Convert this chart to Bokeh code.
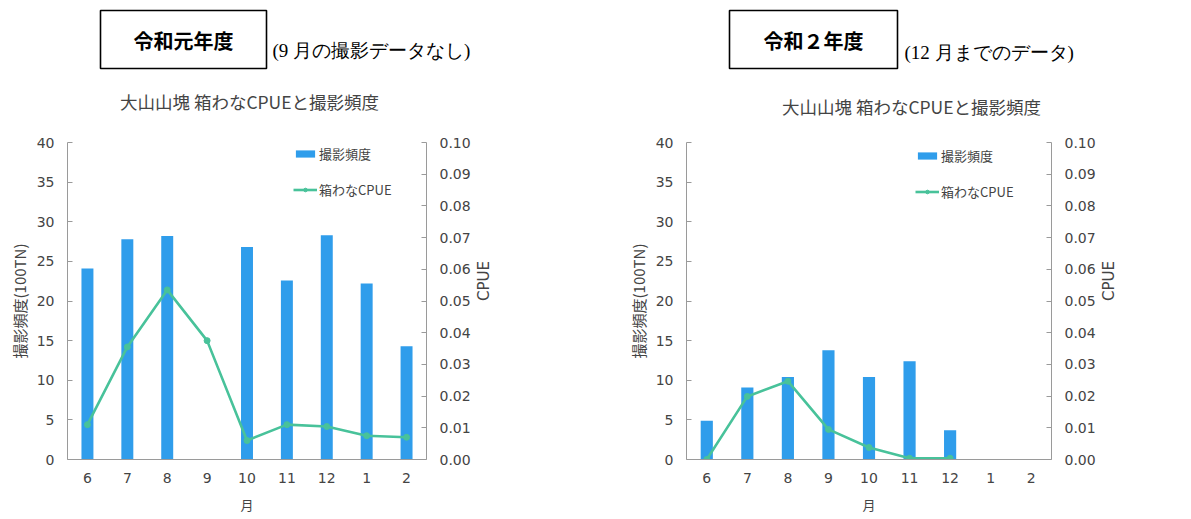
import math
from bokeh.plotting import figure
from bokeh.layouts import column, row
from bokeh.models import (Range1d, FactorRange, LinearAxis, SingleIntervalTicker,
                          NumeralTickFormatter, Legend, LegendItem, ColumnDataSource)
from bokeh.core.properties import value
from bokeh.embed import file_html
from bokeh.resources import INLINE

# Months of the survey year (June to February)
months = ["6", "7", "8", "9", "10", "11", "12", "1", "2"]

# Reiwa 1: camera frequency (100 trap-nights) and box-trap CPUE; no camera data in September
r1_freq = [24.1, 27.8, 28.2, None, 26.8, 22.6, 28.3, 22.2, 14.3]
r1_cpue = [0.011, 0.0355, 0.0535, 0.0375, 0.006, 0.011, 0.0104, 0.0075, 0.007]

# Reiwa 2: data up to December
r2_freq = [4.9, 9.1, 10.4, 13.8, 10.4, 12.4, 3.7, None, None]
r2_cpue = [0.0, 0.0199, 0.0247, 0.0095, 0.0038, 0.0004, 0.0004, None, None]

year_titles = ["令和元年度", "令和２年度"]
year_notes = ["(9 月の撮影データなし)", "(12 月までのデータ)"]
chart_title = "大山山塊 箱わなCPUEと撮影頻度"
freq_label = "撮影頻度(100TN)"
cpue_label = "CPUE"
x_label = "月"
freq_name = "撮影頻度"
cpue_name = "箱わなCPUE"

BAR = "#2F9DEB"
LINE = "#48C29A"
AXIS = "#9a9a9a"
TXT = "#444444"
CJK = "Noto Sans CJK JP"
LAT = "DejaVu Sans"

W_TOTAL, H_TOTAL, H_HEAD = 1191, 519, 120
FRAME_TOP, FRAME_BOTTOM = 142, 459   # plots in a row share the frame's vertical extent
ROW_H = 16  # nominal height of one legend row


def pairs(xs, ys):
    keep = [(x, y) for x, y in zip(xs, ys) if y is not None]
    return [k[0] for k in keep], [k[1] for k in keep]


def make_chart(freq, cpue, width, b_left, frame_w, legend_x, item1_y, item2_y):
    height = H_TOTAL - H_HEAD
    p = figure(width=width, height=height,
               x_range=FactorRange(factors=months, range_padding=0),
               y_range=Range1d(0, 40),
               output_backend="svg", toolbar_location=None,
               min_border_left=b_left, min_border_right=width - b_left - frame_w,
               min_border_top=FRAME_TOP - H_HEAD, min_border_bottom=H_TOTAL - FRAME_BOTTOM)
    p.outline_line_color = None
    p.grid.grid_line_color = None
    p.extra_y_ranges = {"cpue": Range1d(0, 0.1)}

    # left axis: camera frequency
    ya = p.yaxis[0]
    ya.ticker = SingleIntervalTicker(interval=5, num_minor_ticks=0)
    ya.axis_label = freq_label
    # right axis: CPUE, label reading bottom to top
    ya2 = LinearAxis(y_range_name="cpue",
                     ticker=SingleIntervalTicker(interval=0.01, num_minor_ticks=0),
                     formatter=NumeralTickFormatter(format="0.00"),
                     axis_label=cpue_label)
    ya2.axis_label_orientation = math.pi / 2
    p.add_layout(ya2, "right")
    xa = p.xaxis[0]
    xa.axis_label = x_label

    for ax in (ya, ya2):
        ax.major_tick_in = 5
        ax.major_tick_out = 0
        ax.minor_tick_line_color = None
        ax.axis_line_color = AXIS
        ax.major_tick_line_color = AXIS
        ax.major_label_text_font = LAT
        ax.major_label_text_font_size = "14px"
        ax.major_label_text_color = TXT
        ax.major_label_standoff = 13
        ax.axis_label_text_font_size = "15px"
        ax.axis_label_text_font_style = "normal"
        ax.axis_label_text_color = TXT
    ya.axis_label_text_font = CJK
    ya.axis_label_standoff = 4
    ya2.axis_label_text_font = LAT
    ya2.axis_label_standoff = 10

    xa.major_tick_in = 0
    xa.major_tick_out = 0
    xa.minor_tick_line_color = None
    xa.axis_line_color = AXIS
    xa.major_label_text_font = LAT
    xa.major_label_text_font_size = "14px"
    xa.major_label_text_color = TXT
    xa.major_label_standoff = 13
    xa.axis_label_text_font = CJK
    xa.axis_label_text_font_size = "13px"
    xa.axis_label_text_font_style = "normal"
    xa.axis_label_text_color = TXT
    xa.axis_label_standoff = 9

    bx, by = pairs(months, freq)
    bars = p.vbar(x=bx, top=by, width=0.3, fill_color=BAR, line_color=None)

    cx, cy = pairs(months, cpue)
    src = ColumnDataSource(dict(x=cx, y=cy))
    ln = p.line("x", "y", source=src, y_range_name="cpue", line_color=LINE, line_width=2.6)
    pts = p.scatter("x", "y", source=src, y_range_name="cpue", size=6,
                    fill_color=LINE, line_color=LINE)

    legend_bottom = item2_y + ROW_H / 2
    leg = Legend(items=[LegendItem(label=freq_name, renderers=[bars]),
                        LegendItem(label=cpue_name, renderers=[ln, pts])],
                 location=(legend_x, FRAME_BOTTOM - legend_bottom),
                 orientation="vertical", padding=0, margin=0,
                 spacing=int(item2_y - item1_y - ROW_H),
                 glyph_width=24, glyph_height=9, label_height=13, label_standoff=2,
                 border_line_color=None, background_fill_alpha=0,
                 label_text_font=CJK, label_text_font_size="13px", label_text_color=TXT)
    p.add_layout(leg)
    return p


# header with boxed year titles, notes and the chart titles
head = figure(width=W_TOTAL, height=H_HEAD, x_range=Range1d(0, W_TOTAL),
              y_range=Range1d(H_HEAD, 0), x_axis_type=None, y_axis_type=None,
              output_backend="svg", toolbar_location=None, min_border=0)
head.outline_line_color = None
head.grid.grid_line_color = None
head.quad(left=[100, 729], right=[266, 897], top=[10, 10], bottom=[68, 68],
          fill_color=None, line_color="black", line_width=1.6)
head.text(x=[183, 813], y=[40, 40], text=year_titles, text_align="center",
          text_baseline="middle", text_font=value(CJK), text_font_style="bold",
          text_font_size="20px", text_color="black")
head.text(x=[272, 904], y=[50, 52], text=year_notes, text_align="left",
          text_baseline="middle", text_font=value("Liberation Serif"),
          text_font_size="19px", text_color="black")
head.text(x=[249, 911], y=[101, 106], text=[chart_title, chart_title], text_align="center",
          text_baseline="middle", text_font=value(CJK), text_font_size="17.5px",
          text_color=TXT)

left = make_chart(r1_freq, r1_cpue, width=595, b_left=67, frame_w=359,
                  legend_x=226, item1_y=158, item2_y=191)
right = make_chart(r2_freq, r2_cpue, width=596, b_left=91, frame_w=365,
                   legend_x=229, item1_y=160, item2_y=193)

layout = column(head, row(left, right, spacing=0), spacing=0)

with open("out.html", "w") as f:
    f.write(file_html(layout, INLINE))
